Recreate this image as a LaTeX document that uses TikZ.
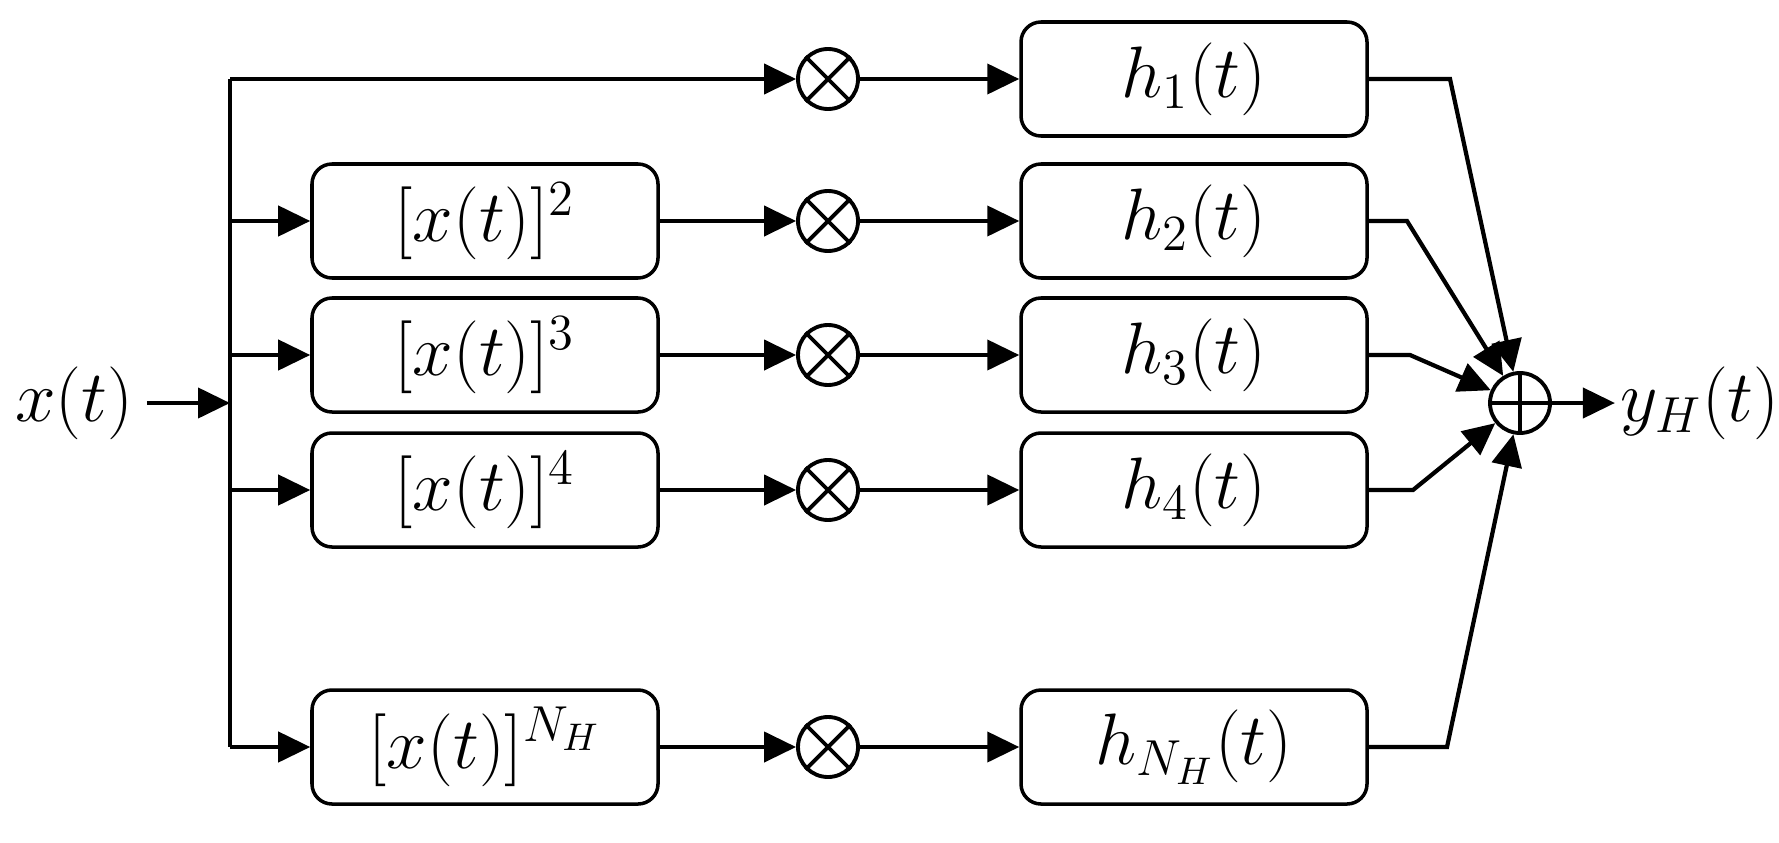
\documentclass[tikz,border=0pt]{standalone}
\usetikzlibrary{arrows.meta}
\begin{document}
\begin{tikzpicture}[
    every node/.append style = {font=\fontsize{21}{24}\selectfont},
    pow box/.style = {draw, rounded corners=2mm, minimum width=3.46cm, minimum height=1.14cm, line width=1pt},
    op/.style = {draw, circle, minimum size=0.6cm, inner sep=0pt, line width=1.1pt},
    every path/.append style = {line width=1.2pt},
    arr/.style = {-{Triangle[length=3.2mm,width=3mm]}}
]
\useasboundingbox (0,0) rectangle (17.79,8.42);

% input and bus
\node (xin) at (0.74,4.39) {$x(t)$};
\coordinate (bin) at (2.30,4.39);
\coordinate (b1) at (2.30,7.63);
\draw[arr] (xin) -- (bin);

% summing point and output
\node[op] (sum) at (15.20,4.39) {};
\draw[line width=1.1pt] (sum.north) -- (sum.south) (sum.east) -- (sum.west);
\node[inner sep=1pt] (yout) at (17.00,4.39) {$y_H(t)$};
\draw[arr] (sum) -- (yout);

% first branch, no power box
\node[op] (mul1) at (8.28,7.63) {};
\draw[line width=1.1pt] (mul1.45) -- (mul1.225) (mul1.135) -- (mul1.-45);
\node[pow box] (h1) at (11.94,7.63) {$h_1(t)$};
\coordinate (c1) at (14.50,7.63);
\draw[arr] (b1) -- (mul1);
\draw[arr] (mul1) -- (h1);
\draw[arr] (h1) -- (c1) -- (sum);

% other branches
\foreach \i/\y/\cx/\p in {2/6.21/14.07/2, 3/4.87/14.10/3, 4/3.52/14.13/4, N/0.95/14.47/{N_H}}{
    \coordinate (b\i) at (2.30,\y);
    \node[pow box] (pow\i) at (4.85,\y) {$[x(t)]^{\p}$};
    \node[op] (mul\i) at (8.28,\y) {};
    \draw[line width=1.1pt] (mul\i.45) -- (mul\i.225) (mul\i.135) -- (mul\i.-45);
    \node[pow box] (h\i) at (11.94,\y) {$h_{\p}(t)$};
    \coordinate (c\i) at (\cx,\y);
    \draw[arr] (b\i) -- (pow\i);
    \draw[arr] (pow\i) -- (mul\i);
    \draw[arr] (mul\i) -- (h\i);
    \draw[arr] (h\i) -- (c\i) -- (sum);
}
\draw (b1) -- (bN);

\end{tikzpicture}
\end{document}
